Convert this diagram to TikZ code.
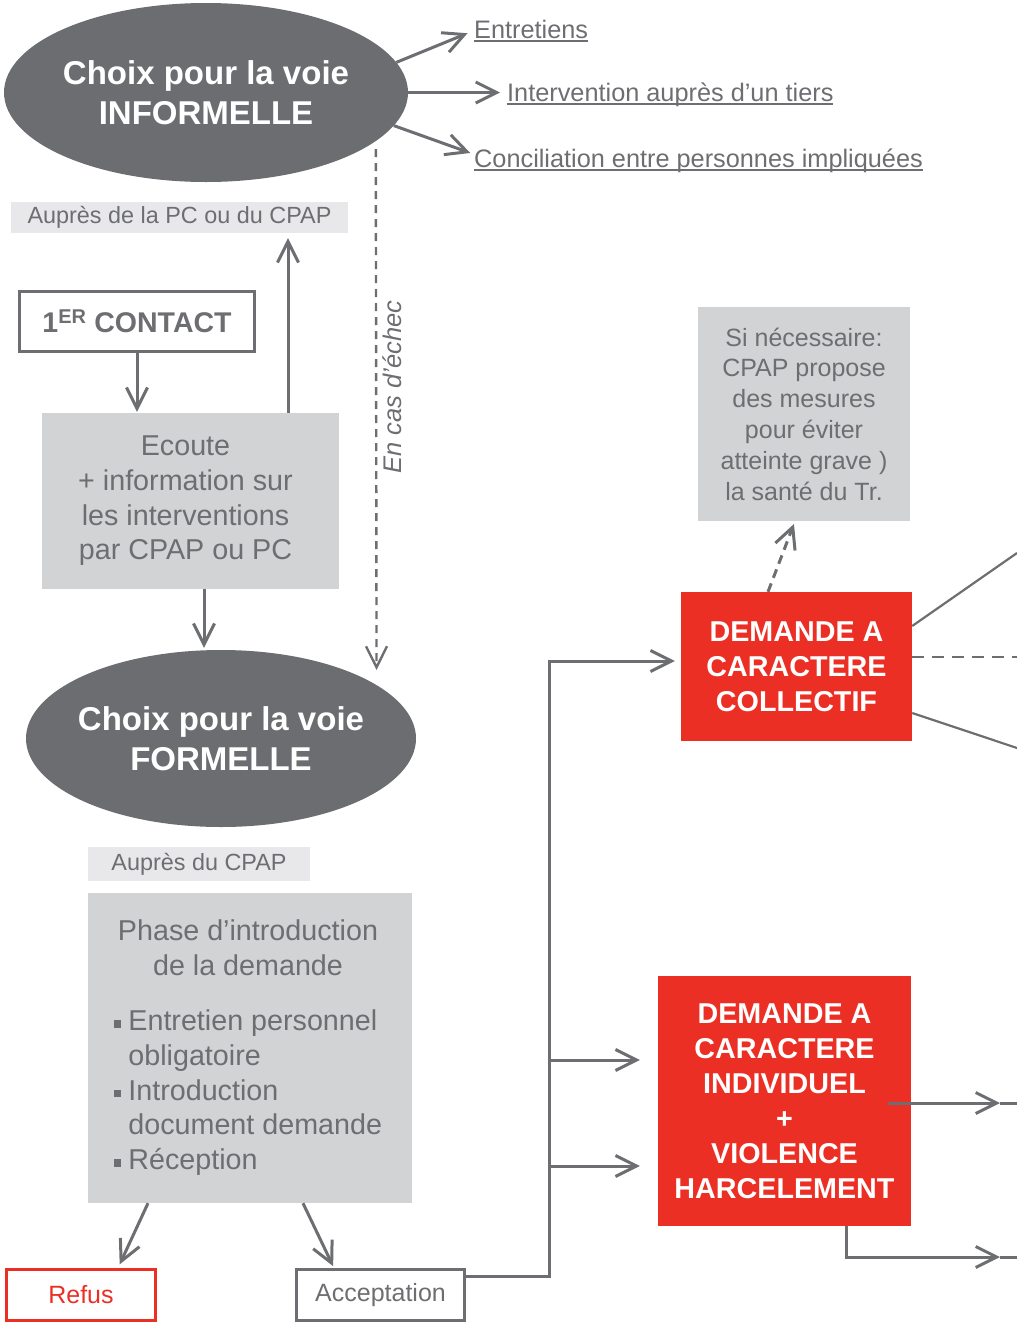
\documentclass[tikz,border=0pt]{standalone}
\usepackage{fontspec}
\setmainfont{Liberation Sans}
\usetikzlibrary{shapes.geometric,arrows.meta}
\definecolor{voiegray}{HTML}{6C6D70}
\definecolor{txtgray}{HTML}{6D6E71}
\definecolor{boxgray}{HTML}{D1D3D4}
\definecolor{lblgray}{HTML}{E8E8EA}
\definecolor{demred}{HTML}{EC2F24}
\newcommand\undl[1]{\setbox0\hbox{#1}\rlap{\rule[-3.5pt]{\wd0}{1.7pt}}\box0}
\newcommand\puce{\raisebox{3pt}{\rule{7.5pt}{7.5pt}}}
\tikzset{
  voie/.style={ellipse, fill=voiegray, text=white, inner xsep=-10pt, inner ysep=0pt, align=center, font=\fontsize{33}{40}\selectfont\bfseries},
  grisbox/.style={rectangle, fill=boxgray, text=txtgray, inner sep=0, align=center, font=\fontsize{28.7}{34.7}\selectfont},
  lbl/.style={rectangle, fill=lblgray, text=txtgray, inner sep=0, font=\fontsize{23.4}{28}\selectfont},
  rouge/.style={rectangle, fill=demred, text=white, inner sep=0, align=center, font=\fontsize{28.7}{35}\selectfont\bfseries},
  cadre/.style={rectangle, draw=txtgray, line width=3pt, text=txtgray, inner sep=0},
  lien/.style={text=txtgray, inner sep=0, font=\fontsize{25.3}{30}\selectfont},
  fl/.style={draw=txtgray, line width=3pt, -{Straight Barb[length=21pt,width=21pt]}},
  trait/.style={draw=txtgray, line width=3pt},
}

\begin{document}
\begin{tikzpicture}[x=1pt, y=-1pt]
  \useasboundingbox (0,0) rectangle (1017,1323);
  \node[voie, minimum width=404pt, minimum height=179pt] (inf) at (206,92.5) {Choix pour la voie\\INFORMELLE};
  \node[lien, anchor=base west] (ent) at (474,38) {\undl{Entretiens}};
  \node[lien, anchor=base west] (int) at (507,101) {\undl{Intervention auprès d’un tiers}};
  \node[lien, anchor=base west] (conc) at (474,167) {\undl{Conciliation entre personnes impliquées}};
  \node[lbl, minimum width=337pt, minimum height=31pt] (aup1) at (179.5,217.5) {Auprès de la PC ou du CPAP};
  \node[cadre, minimum width=235pt, minimum height=60pt, font=\fontsize{28.5}{34}\selectfont\bfseries] (contact) at (137,321.5) {1\textsuperscript{ER} CONTACT};
  \node[grisbox, minimum width=297pt, minimum height=176pt] (ecoute) at (190.5,501) {\hspace*{-10pt}Ecoute\\\hspace*{-10pt}+ information sur\\\hspace*{-10pt}les interventions\\\hspace*{-10pt}par CPAP ou PC};
  \node[lien, rotate=90, font=\fontsize{25.5}{30}\selectfont\itshape] (echec) at (392,387) {En cas d’échec};
  \node[voie, minimum width=390pt, minimum height=177pt] (form) at (221,738.5) {Choix pour la voie\\FORMELLE};
  \node[lbl, minimum width=222pt, minimum height=34pt] (aup2) at (199,864) {Auprès du CPAP};
  \node[grisbox, minimum width=324pt, minimum height=310pt] (phase) at (250,1048) {%
    \begin{tabular}{@{}l@{\hspace{7pt}}l@{}}
      \multicolumn{2}{@{}c@{}}{Phase d’introduction}\\
      \multicolumn{2}{@{}c@{}}{de la demande}\\[21pt]
      \puce & Entretien personnel\\
            & obligatoire\\
      \puce & Introduction\\
            & document demande\\
      \puce & Réception
    \end{tabular}\hspace*{4pt}};
  \node[cadre, draw=demred, text=demred, minimum width=149pt, minimum height=51pt, font=\fontsize{25}{30}\selectfont] (refus) at (81,1295) {Refus};
  \node[cadre, minimum width=168pt, minimum height=51pt, font=\fontsize{25}{30}\selectfont] (acc) at (380.5,1295) {Acceptation};
  \node[grisbox, minimum width=212pt, minimum height=214pt, font=\fontsize{25}{30.8}\selectfont] (si) at (804,414) {Si nécessaire:\\CPAP propose\\des mesures\\pour éviter\\atteinte grave )\\la santé du Tr.};
  \node[rouge, minimum width=231pt, minimum height=149pt] (coll) at (796.5,666.5) {DEMANDE A\\CARACTERE\\COLLECTIF};
  \node[rouge, minimum width=253pt, minimum height=250pt] (indiv) at (784.5,1101) {DEMANDE A\\CARACTERE\\INDIVIDUEL\\+\\VIOLENCE\\HARCELEMENT};

  \draw[fl, shorten >=7pt] (inf.9) -- (ent.west);
  \draw[fl, shorten >=7pt] (inf.east) -- (inf.east -| int.west);
  \draw[fl, shorten >=4pt] (inf.-10) -- ([yshift=6pt]conc.west);
  \draw[fl, line width=2.4pt, dash pattern=on 8pt off 6pt, shorten <=8pt, shorten >=15pt] (inf.-16.6) -- (form.19.9);
  \coordinate (up) at (288,0);
  \coordinate (dn) at (204,0);
  \draw[fl, shorten >=5pt] (ecoute.north -| up) -- (aup1.south -| up);
  \draw[fl, shorten >=1pt] (contact.south) -- (contact.south |- ecoute.north);
  \draw[fl, shorten >=2pt] (ecoute.south -| dn) -- (form.north -| dn);
  \draw[fl, shorten >=4pt] ([xshift=-102pt]phase.south) -- ([xshift=37pt]refus.north);
  \draw[fl, shorten >=2pt] ([xshift=53pt]phase.south) -- ([xshift=-46.5pt]acc.north);
  \coordinate (bus) at (549,1276);
  \coordinate (b1) at (549,1060);
  \coordinate (b2) at (549,1166);
  \draw[fl, shorten >=6pt] ([yshift=19pt]acc.east) -- (bus) |- ([yshift=5.5pt]coll.west);
  \draw[fl, shorten >=18pt] (b1) -- (b1 -| indiv.west);
  \draw[fl, shorten >=18pt] (b2) -- (b2 -| indiv.west);
  \draw[fl, dash pattern=on 9pt off 6pt, shorten >=3pt] ([xshift=-28.5pt]coll.north) -- ([xshift=-9pt]si.south);
  \coordinate (r1) at (1017,553);
  \coordinate (r2) at (1017,657);
  \coordinate (r3) at (1017,748);
  \draw[trait, line width=2.2pt] ([yshift=40.5pt]coll.east) -- (r1);
  \draw[trait, line width=2.6pt, dash pattern=on 12pt off 8pt] ([yshift=9.5pt]coll.east) -- (r2);
  \draw[trait, line width=2.2pt] ([yshift=-46.5pt]coll.east) -- (r3);
  \coordinate (a1) at (1000,1103);
  \coordinate (e1) at (1017,1103);
  \coordinate (a2) at (1000,1257);
  \coordinate (e2) at (1017,1257);
  \draw[fl] ([xshift=-23pt,yshift=-2pt]indiv.east) -- (a1);
  \draw[trait] (a1) -- (e1);
  \draw[fl] ([xshift=61.5pt]indiv.south) |- (a2);
  \draw[trait] (a2) -- (e2);
\end{tikzpicture}
\end{document}
